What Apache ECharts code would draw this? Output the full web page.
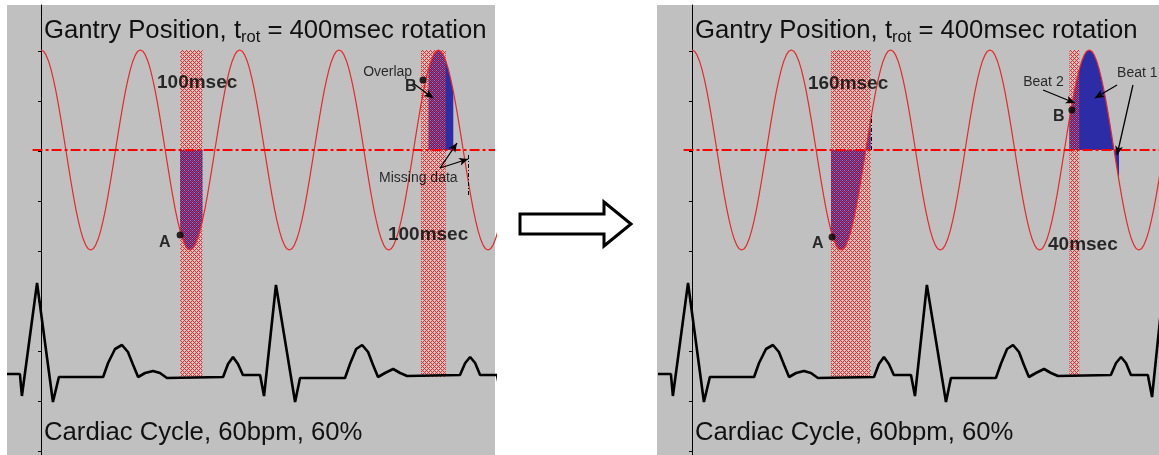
<!DOCTYPE html>
<html><head><meta charset="utf-8">
<script src="https://cdn.jsdelivr.net/npm/echarts@6/dist/echarts.min.js"></script>
<style>html,body{margin:0;padding:0;background:#fff;}#c{width:1159px;height:455px;}</style>
</head><body><div id="c"></div>
<script>
// ---------- data ----------
const ROTATION_MS = 400;
const GANTRY_STEP_MS = 10;
const GANTRY_ONE_TURN = [1, 0.988, 0.951, 0.891, 0.809, 0.707, 0.588, 0.454, 0.309, 0.156,
  0, -0.156, -0.309, -0.454, -0.588, -0.707, -0.809, -0.891, -0.951, -0.988,
  -1, -0.988, -0.951, -0.891, -0.809, -0.707, -0.588, -0.454, -0.309, -0.156,
  0, 0.156, 0.309, 0.454, 0.588, 0.707, 0.809, 0.891, 0.951, 0.988];
// ECG trace (time ms, amplitude)
const ECG_T = [-137, -85, -77, -16, 48, 72, 250, 270, 298, 326, 350, 371, 391, 419, 451, 479, 507,
  733, 753, 773, 793, 813, 882, 898, 946, 1023, 1043, 1224, 1244, 1269, 1293, 1317, 1337, 1357,
  1385, 1418, 1446, 1474, 1687, 1708, 1728, 1748, 1768, 1836, 1853, 1900];
const ECG_V = [0.03, 0.03, -0.19, 0.94, -0.25, 0, 0, 0.14, 0.28, 0.32, 0.25, 0.12, 0, 0.04, 0.06, 0.04, -0.01,
  0, 0.13, 0.20, 0.13, 0.02, 0.02, -0.19, 0.92, -0.25, -0.01, -0.01, 0.13, 0.28, 0.32, 0.25, 0.12, 0,
  0.04, 0.08, 0.04, 0.01, 0.02, 0.14, 0.20, 0.14, 0.02, 0.02, -0.20, 0.93];
const Y_TICKS = [0, 1, 2, 3, 4, 5, 6, 7, 8];

const LEFT_BANDS = [[560, 650], [1530, 1630]];
const LEFT_FILLS = [[560, 650], [1560, 1660]];
const RIGHT_BANDS = [[560, 720], [1520, 1560]];
const RIGHT_FILLS = [[560, 720], [1520, 1720]];

const LEFT_LABELS = [
  ['100msec', 467, 0.67, 'dur'], ['100msec', 1397, -0.85, 'dur'],
  ['A', 475, -0.93, 'pt'], ['B', 1466, 0.63, 'pt'],
  ['Overlap', 1297, 0.78, 'note'], ['Missing data', 1361, -0.28, 'note']];
const RIGHT_LABELS = [
  ['160msec', 467, 0.66, 'dur'], ['40msec', 1434, -0.95, 'dur'],
  ['A', 483, -0.94, 'pt'], ['B', 1454, 0.33, 'pt'],
  ['Beat 2', 1334, 0.68, 'note'], ['Beat 1', 1712, 0.77, 'note']];
const LEFT_DOTS = [[560, -0.85], [1538, 0.70]];
const RIGHT_DOTS = [[564, -0.87], [1530, 0.40]];
const LEFT_ARROWS = [[1502, 0.66, 1579, 0.52], [1607, -0.18, 1675, 0.07], [1607, -0.18, 1720, -0.09]];
const RIGHT_ARROWS = [[1414, 0.60, 1542, 0.47], [1712, 0.65, 1623, 0.52], [1776, 0.65, 1712, -0.05]];
const LEFT_GUIDES = [[1720, -0.05, -0.47]];
const RIGHT_GUIDES = [[722, 0, 0.35]];

const TITLE_TOP = '{m|Gantry Position, t}{s|rot}{m| = 400msec rotation}';
const TITLE_BOTTOM = 'Cardiac Cycle, 60bpm, 60%';

// ---------- build ----------
const FONT = '"Liberation Sans", Arial, sans-serif';
function gantryPoints(t0, t1) {
  const out = [];
  for (let t = t0; t <= t1; t += GANTRY_STEP_MS) {
    const n = GANTRY_ONE_TURN.length;
    const i = (((Math.round(t / GANTRY_STEP_MS)) % n) + n) % n;
    out.push([t, GANTRY_ONE_TURN[i]]);
  }
  return out;
}
const ecgData = ECG_T.map((t, i) => [t, ECG_V[i]]);

function makeHatch() {
  const c = document.createElement('canvas'); c.width = 4; c.height = 4;
  const ctx = c.getContext('2d');
  const img = ctx.createImageData(4, 4);
  for (let y = 0; y < 4; y++) for (let x = 0; x < 4; x++) {
    const k = (y * 4 + x) * 4;
    if ((x + y) % 4 === 0 || ((x - y) + 4) % 4 === 0) {
      img.data[k] = 240; img.data[k + 1] = 40; img.data[k + 2] = 40; img.data[k + 3] = 255;
    } else if ((x === 2 && y === 0) || (x === 0 && y === 2)) {
      img.data[k] = 255; img.data[k + 1] = 225; img.data[k + 2] = 225; img.data[k + 3] = 120;
    } else {
      img.data[k + 3] = 0;
    }
  }
  ctx.putImageData(img, 0, 0);
  return c;
}
const hatch = makeHatch();
const BAND_TOP_G = 1, BAND_BOTTOM_G = -2.27;

const panels = [
  {left: 7, width: 488, xmin: -137, xmax: 1828, bands: LEFT_BANDS, fills: LEFT_FILLS, labels: LEFT_LABELS,
   dots: LEFT_DOTS, arrows: LEFT_ARROWS, guides: LEFT_GUIDES, textLeft: 44},
  {left: 657, width: 502, xmin: -141, xmax: 1881, bands: RIGHT_BANDS, fills: RIGHT_FILLS, labels: RIGHT_LABELS,
   dots: RIGHT_DOTS, arrows: RIGHT_ARROWS, guides: RIGHT_GUIDES, textLeft: 695}
];

const grid = [], xAxis = [], yAxis = [], series = [], title = [];
const labelStyles = {
  dur: {fontSize: 19, fontWeight: 'bold'},
  pt: {fontSize: 16, fontWeight: 'bold'},
  note: {fontSize: 14, fontWeight: 'normal'}
};
panels.forEach((p, pi) => {
  grid.push({left: p.left, top: 5, width: p.width, height: 450, show: true,
    backgroundColor: '#c0c0c0', borderWidth: 0, containLabel: false});
  xAxis.push({type: 'value', gridIndex: pi, min: p.xmin, max: p.xmax, show: false,
    axisLine: {onZero: false}});
  const y0 = yAxis.length;
  yAxis.push({type: 'value', gridIndex: pi, min: -0.08, max: 8.92, position: 'left',
    axisLine: {show: true, onZero: true, lineStyle: {color: '#000', width: 1}},
    axisTick: {show: true, length: 3, customValues: Y_TICKS, lineStyle: {color: '#000'}},
    axisLabel: {show: false}, splitLine: {show: false}});
  yAxis.push({type: 'value', gridIndex: pi, min: -3.05, max: 1.45, show: false, splitLine: {show: false}});
  yAxis.push({type: 'value', gridIndex: pi, min: -0.78, max: 3.72, show: false, splitLine: {show: false}});
  const gY = y0 + 1, eY = y0 + 2;

  // blue fills
  p.fills.forEach(f => {
    series.push({type: 'line', xAxisIndex: pi, yAxisIndex: gY, data: gantryPoints(f[0], f[1]),
      showSymbol: false, silent: true, z: 2, lineStyle: {width: 0, opacity: 0},
      areaStyle: {color: '#2c2ca6', opacity: 1, origin: 0}});
  });
  // hatched bands
  series.push({type: 'custom', xAxisIndex: pi, yAxisIndex: gY, data: p.bands, silent: true, z: 3,
    renderItem: (params, api) => {
      const a = api.coord([api.value(0), BAND_TOP_G]);
      const b = api.coord([api.value(1), BAND_BOTTOM_G]);
      return {type: 'rect', shape: {x: a[0], y: a[1], width: b[0] - a[0], height: b[1] - a[1]},
        style: {fill: {image: hatch, repeat: 'repeat'}}};
    }});
  // gantry curve + center line
  series.push({type: 'line', xAxisIndex: pi, yAxisIndex: gY, data: gantryPoints(0, 1900),
    showSymbol: false, silent: true, z: 4, lineStyle: {color: '#e82828', width: 1.2},
    markLine: {silent: true, symbol: 'none', label: {show: false},
      lineStyle: {color: '#ff0000', width: 2, type: [10, 3, 3, 3]},
      data: [[{coord: [-34, 0]}, {coord: [p.xmax, 0]}]]}});
  // ECG
  series.push({type: 'line', xAxisIndex: pi, yAxisIndex: eY, data: ecgData, showSymbol: false,
    silent: true, z: 5, lineStyle: {color: '#000', width: 2.6}});
  // dots + arrows
  const ml = p.arrows.map(a => [{coord: [a[0], a[1]], symbol: 'none'},
    {coord: [a[2], a[3]], symbol: 'arrow', symbolSize: [6, 9]}]);
  p.guides.forEach(g => ml.push([{coord: [g[0], g[1]], symbol: 'none',
    lineStyle: {type: [4, 2, 1, 2], width: 1, color: '#000'}}, {coord: [g[0], g[2]], symbol: 'none'}]));
  series.push({type: 'scatter', xAxisIndex: pi, yAxisIndex: gY, data: p.dots, symbolSize: 7,
    itemStyle: {color: '#000'}, silent: true, z: 6,
    markLine: {silent: true, label: {show: false}, symbol: ['none', 'arrow'],
      lineStyle: {color: '#000', width: 1.3, type: 'solid'}, data: ml}});
  // text labels
  series.push({type: 'scatter', xAxisIndex: pi, yAxisIndex: gY, symbolSize: 0, silent: true, z: 7,
    data: p.labels.map(l => ({value: [l[1], l[2]], name: l[0],
      label: Object.assign({show: true, position: 'right', distance: 0, formatter: '{b}',
        color: '#000', fontFamily: FONT}, labelStyles[l[3]])}))});

  title.push({text: TITLE_TOP, left: p.textLeft, top: 16, padding: 0,
    textStyle: {fontWeight: 'normal', rich: {
      m: {fontSize: 25.7, lineHeight: 30, fontWeight: 'normal', color: '#111', fontFamily: FONT},
      s: {fontSize: 16.5, lineHeight: 10, fontWeight: 'normal', verticalAlign: 'bottom', color: '#111', fontFamily: FONT}}}});
  title.push({text: TITLE_BOTTOM, left: p.textLeft, top: 418, padding: 0,
    textStyle: {fontSize: 25.7, lineHeight: 30, fontWeight: 'normal', color: '#111', fontFamily: FONT}});
});

const chart = echarts.init(document.getElementById('c'), null, {renderer: 'canvas'});
chart.setOption({
  animation: false,
  backgroundColor: '#ffffff',
  title, grid, xAxis, yAxis, series,
  graphic: [{type: 'polygon', z: 10,
    shape: {points: [[520, 214], [604, 214], [604, 202], [631, 224], [604, 246], [604, 234], [520, 234]]},
    style: {fill: '#ffffff', stroke: '#000', lineWidth: 3, lineJoin: 'miter'}}]
});
</script></body></html>
